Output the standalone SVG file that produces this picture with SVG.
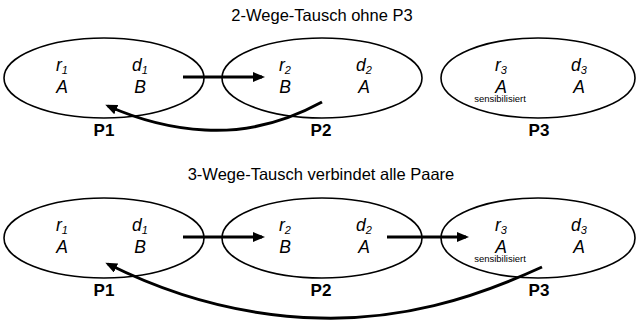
<svg xmlns="http://www.w3.org/2000/svg" width="636" height="320" viewBox="0 0 636 320">
<style>
.bg{fill:#fff}
.ell{fill:none;stroke:#000;stroke-width:1.6}
.t{font-family:"Liberation Sans",Arial,sans-serif;fill:#000}
.title{font-size:16.5px}
.v{font-size:17.5px;font-style:italic;text-anchor:middle}
.sub{font-size:11px}
.p{font-size:17px;font-weight:bold;text-anchor:middle}
.s{font-size:9.5px;text-anchor:middle}
.arr{fill:none;stroke:#000;stroke-width:3}
</style>
<defs>
<marker id="ah" markerWidth="12" markerHeight="10" refX="9" refY="5" orient="auto" markerUnits="userSpaceOnUse">
<path d="M0,0 L12,5 L0,10 Z" fill="#000"/>
</marker>
</defs>
<rect class="bg" width="636" height="320"/>
<text class="t title" x="322" y="21" text-anchor="middle">2-Wege-Tausch ohne P3</text>
<text class="t title" x="321" y="180" text-anchor="middle">3-Wege-Tausch verbindet alle Paare</text>

<g id="top-P1">
<ellipse class="ell" cx="104" cy="78" rx="100" ry="40"/>
<text class="t v" x="62" y="71">r<tspan class="sub" dy="3">1</tspan></text>
<text class="t v" x="140" y="71">d<tspan class="sub" dy="3">1</tspan></text>
<text class="t v" x="62" y="93">A</text>
<text class="t v" x="140" y="93">B</text>
<text class="t p" x="104" y="136">P1</text>
</g>
<g id="top-P2">
<ellipse class="ell" cx="322" cy="78" rx="100" ry="40"/>
<text class="t v" x="285" y="71">r<tspan class="sub" dy="3">2</tspan></text>
<text class="t v" x="364" y="71">d<tspan class="sub" dy="3">2</tspan></text>
<text class="t v" x="285" y="93">B</text>
<text class="t v" x="364" y="93">A</text>
<text class="t p" x="321" y="136">P2</text>
</g>
<g id="top-P3">
<ellipse class="ell" cx="538" cy="78" rx="97" ry="40"/>
<text class="t v" x="501" y="71">r<tspan class="sub" dy="3">3</tspan></text>
<text class="t v" x="579" y="71">d<tspan class="sub" dy="3">3</tspan></text>
<text class="t v" x="501" y="93">A</text>
<text class="t v" x="579" y="93">A</text>
<text class="t s" x="500" y="102">sensibilisiert</text>
<text class="t p" x="539" y="136">P3</text>
</g>

<g id="bot-P1">
<ellipse class="ell" cx="104" cy="238" rx="100" ry="40"/>
<text class="t v" x="62" y="231">r<tspan class="sub" dy="3">1</tspan></text>
<text class="t v" x="140" y="231">d<tspan class="sub" dy="3">1</tspan></text>
<text class="t v" x="62" y="253">A</text>
<text class="t v" x="140" y="253">B</text>
<text class="t p" x="104" y="296">P1</text>
</g>
<g id="bot-P2">
<ellipse class="ell" cx="322" cy="238" rx="100" ry="40"/>
<text class="t v" x="285" y="231">r<tspan class="sub" dy="3">2</tspan></text>
<text class="t v" x="364" y="231">d<tspan class="sub" dy="3">2</tspan></text>
<text class="t v" x="285" y="253">B</text>
<text class="t v" x="364" y="253">A</text>
<text class="t p" x="321" y="296">P2</text>
</g>
<g id="bot-P3">
<ellipse class="ell" cx="538" cy="238" rx="97" ry="40"/>
<text class="t v" x="501" y="231">r<tspan class="sub" dy="3">3</tspan></text>
<text class="t v" x="579" y="231">d<tspan class="sub" dy="3">3</tspan></text>
<text class="t v" x="501" y="253">A</text>
<text class="t v" x="579" y="253">A</text>
<text class="t s" x="500" y="262">sensibilisiert</text>
<text class="t p" x="539" y="296">P3</text>
</g>

<g id="connectors">
<line class="arr" x1="183" y1="77" x2="262" y2="77" marker-end="url(#ah)"/>
<path class="arr" d="M322,102 C280,125 240,132 205,130 C165,128 135,118 108,106" marker-end="url(#ah)"/>
<line class="arr" x1="183" y1="237" x2="262" y2="237" marker-end="url(#ah)"/>
<line class="arr" x1="387" y1="237" x2="466" y2="237" marker-end="url(#ah)"/>
<path class="arr" d="M542,267 C470,300 400,320 320,318 C230,316 160,290 108,264" marker-end="url(#ah)"/>
</g>
</svg>
